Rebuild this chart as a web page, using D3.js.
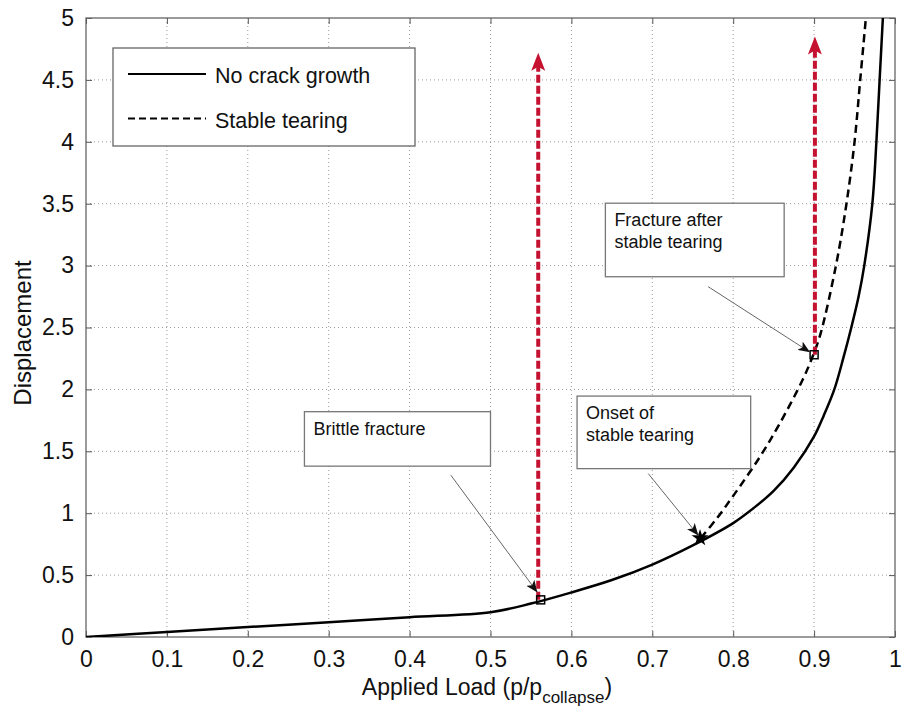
<!DOCTYPE html>
<html>
<head>
<meta charset="utf-8">
<script src="https://cdn.jsdelivr.net/npm/d3@7"></script>
<style>
  body { margin: 0; background: #fff; }
  svg { font-family: "Liberation Sans", Arial, sans-serif; }
</style>
</head>
<body>
<svg id="chart" width="902" height="713"></svg>
<script>
// curve: no crack growth
const loadSolid = [0, 0.1, 0.2, 0.3, 0.4, 0.5, 0.55, 0.6, 0.65, 0.7, 0.75, 0.8, 0.825, 0.85, 0.875, 0.9, 0.912, 0.925, 0.936, 0.946, 0.955, 0.962, 0.972, 0.977, 0.981, 0.985];
const dispSolid = [0, 0.04, 0.08, 0.12, 0.16, 0.20, 0.27, 0.36, 0.46, 0.585, 0.74, 0.92, 1.04, 1.18, 1.37, 1.62, 1.79, 2.0, 2.25, 2.5, 2.75, 3.0, 3.5, 4.0, 4.5, 5.0];

// curve: stable tearing
const loadDashed = [0.76, 0.78, 0.80, 0.833, 0.858, 0.886, 0.899, 0.908, 0.927, 0.940, 0.950, 0.957, 0.964];
const dispDashed = [0.80, 0.96, 1.14, 1.455, 1.73, 2.08, 2.28, 2.45, 3.0, 3.5, 4.0, 4.5, 5.0];

// events
const brittlePt = [0.562, 0.30];
const onsetPt = [0.759, 0.80];
const fracturePt = [0.900, 2.28];
const fractureArrowX = [0.559, 0.901];
const fractureArrowFrom = [0.30, 2.28];
const fractureArrowTo = [4.72, 4.85];

const xTicks = [0, 0.1, 0.2, 0.3, 0.4, 0.5, 0.6, 0.7, 0.8, 0.9, 1];
const yTicks = [0, 0.5, 1, 1.5, 2, 2.5, 3, 3.5, 4, 4.5, 5];
const legendLabels = ["No crack growth", "Stable tearing"];

const svg = d3.select("#chart");
const pL = 86, pR = 895, pT = 18, pB = 637;

const x = d3.scaleLinear().domain([0, 1]).range([pL, pR]);
const y = d3.scaleLinear().domain([0, 5]).range([pB, pT]);

// grid
const grid = svg.append("g").attr("stroke", "#9a9a9a").attr("stroke-width", 1).attr("stroke-dasharray", "1,3");
grid.selectAll(".gx").data(xTicks.slice(1, -1)).join("line")
  .attr("x1", d => x(d)).attr("x2", d => x(d)).attr("y1", pT).attr("y2", pB);
grid.selectAll(".gy").data(yTicks.slice(1, -1)).join("line")
  .attr("x1", pL).attr("x2", pR).attr("y1", d => y(d)).attr("y2", d => y(d));

// axes with inward ticks on all sides
const fmt = d => d3.format("")(d);
svg.append("g").attr("transform", `translate(0,${pB})`)
  .call(d3.axisBottom(x).tickValues(xTicks).tickFormat(fmt).tickSizeInner(-6).tickSizeOuter(0).tickPadding(14));
svg.append("g").attr("transform", `translate(0,${pT})`)
  .call(d3.axisTop(x).tickValues(xTicks).tickFormat("").tickSizeInner(-6).tickSizeOuter(0));
svg.append("g").attr("transform", `translate(${pL},0)`)
  .call(d3.axisLeft(y).tickValues(yTicks).tickFormat(fmt).tickSizeInner(-6).tickSizeOuter(0).tickPadding(12));
svg.append("g").attr("transform", `translate(${pR},0)`)
  .call(d3.axisRight(y).tickValues(yTicks).tickFormat("").tickSizeInner(-6).tickSizeOuter(0));
svg.selectAll(".domain").remove();
svg.selectAll(".tick line").attr("stroke", "#555");
svg.selectAll(".tick text").attr("font-size", 23).attr("fill", "#111")
  .attr("font-family", "Liberation Sans, Arial, sans-serif");

svg.append("rect").attr("x", pL).attr("y", pT).attr("width", pR - pL).attr("height", pB - pT)
  .attr("fill", "none").attr("stroke", "#666").attr("stroke-width", 1.3);

// curves
const line = d3.line().x(d => x(d[0])).y(d => y(d[1])).curve(d3.curveCatmullRom.alpha(0.5));
svg.append("clipPath").attr("id", "clip").append("rect")
  .attr("x", pL).attr("y", pT).attr("width", pR - pL).attr("height", pB - pT);

svg.append("path").datum(loadSolid.map((v, i) => [v, dispSolid[i]]))
  .attr("clip-path", "url(#clip)")
  .attr("d", line).attr("fill", "none").attr("stroke", "#000").attr("stroke-width", 2.5);
svg.append("path").datum(loadDashed.map((v, i) => [v, dispDashed[i]]))
  .attr("clip-path", "url(#clip)")
  .attr("d", line).attr("fill", "none").attr("stroke", "#000").attr("stroke-width", 2.5)
  .attr("stroke-dasharray", "8,5");

// red fracture arrows
const red = "#c41230";
fractureArrowX.forEach((xv, i) => {
  const tipY = y(fractureArrowTo[i]);
  svg.append("line").attr("x1", x(xv)).attr("x2", x(xv))
    .attr("y1", y(fractureArrowFrom[i])).attr("y2", tipY + 12)
    .attr("stroke", red).attr("stroke-width", 4).attr("stroke-dasharray", "8,3");
  const cx = x(xv);
  svg.append("path")
    .attr("d", `M${cx},${tipY} L${cx + 7},${tipY + 18} L${cx},${tipY + 14} L${cx - 7},${tipY + 18} Z`)
    .attr("fill", red);
});

// markers
[brittlePt, fracturePt].forEach(p => {
  svg.append("rect").attr("x", x(p[0]) - 4).attr("y", y(p[1]) - 4).attr("width", 8).attr("height", 8)
    .attr("fill", "none").attr("stroke", "#000").attr("stroke-width", 1.5);
});
svg.append("path").attr("transform", `translate(${x(onsetPt[0])},${y(onsetPt[1])})`)
  .attr("d", d3.symbol(d3.symbolStar, 90)()).attr("fill", "#000");

// annotations
const annotations = [
  { lines: ["Brittle fracture"], box: [0.27, 1.82, 0.50, 1.38], from: [0.451, 1.307], to: [0.558, 0.36] },
  { lines: ["Onset of", "stable tearing"], box: [0.607, 1.946, 0.8216, 1.36], from: [0.695, 1.32], to: [0.757, 0.82] },
  { lines: ["Fracture after", "stable tearing"], box: [0.642, 3.504, 0.863, 2.91], from: [0.769, 2.83], to: [0.895, 2.30] }
];

svg.append("defs").append("marker").attr("id", "head")
  .attr("viewBox", "0 0 12 10").attr("refX", 12).attr("refY", 5)
  .attr("markerWidth", 12).attr("markerHeight", 10).attr("markerUnits", "userSpaceOnUse")
  .attr("orient", "auto")
  .append("path").attr("d", "M0,0 L12,5 L0,10 L3,5 Z").attr("fill", "#111");

annotations.forEach(a => {
  const bx = x(a.box[0]), by = y(a.box[1]);
  svg.append("rect").attr("x", bx).attr("y", by)
    .attr("width", x(a.box[2]) - bx).attr("height", y(a.box[3]) - by)
    .attr("fill", "#fff").attr("stroke", "#777").attr("stroke-width", 1.3);
  a.lines.forEach((t, i) => {
    svg.append("text").attr("x", bx + 9).attr("y", by + 23 + i * 22)
      .attr("font-size", 18).attr("fill", "#111").text(t);
  });
  svg.append("line").attr("x1", x(a.from[0])).attr("y1", y(a.from[1]))
    .attr("x2", x(a.to[0])).attr("y2", y(a.to[1]))
    .attr("stroke", "#666").attr("stroke-width", 1).attr("marker-end", "url(#head)");
});

// legend
const legend = svg.append("g");
legend.append("rect").attr("x", 113).attr("y", 48).attr("width", 302).attr("height", 98)
  .attr("fill", "#fff").attr("stroke", "#666").attr("stroke-width", 1.3);
legendLabels.forEach((lab, i) => {
  const ly = 74 + i * 44.5;
  legend.append("line").attr("x1", 128).attr("x2", 206).attr("y1", ly).attr("y2", ly)
    .attr("stroke", "#000").attr("stroke-width", 2)
    .attr("stroke-dasharray", i === 1 ? "7,4" : null);
  legend.append("text").attr("x", 215).attr("y", ly + 9).attr("font-size", 21.5).attr("fill", "#111").text(lab);
});

// axis labels
const xl = svg.append("text").attr("x", 487).attr("y", 695).attr("text-anchor", "middle")
  .attr("font-size", 23).attr("fill", "#111");
xl.append("tspan").text("Applied Load (p/p");
xl.append("tspan").attr("font-size", 17).attr("dy", 8).text("collapse");
xl.append("tspan").attr("dy", -8).text(")");

svg.append("text").attr("transform", "translate(31,333) rotate(-90)").attr("text-anchor", "middle")
  .attr("font-size", 24).attr("fill", "#111").text("Displacement");
</script>
</body>
</html>
